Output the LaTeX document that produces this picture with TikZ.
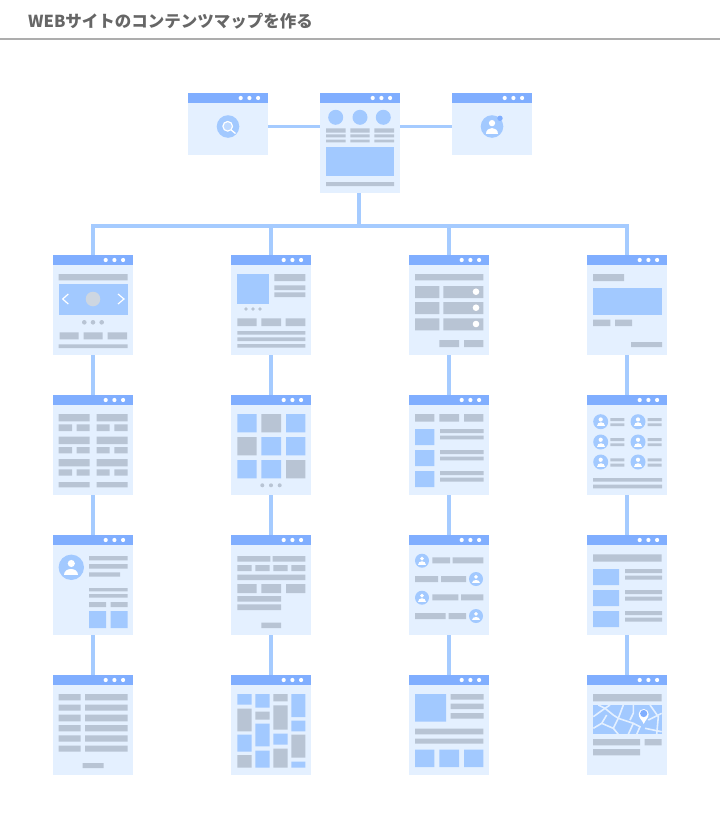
\documentclass[tikz,border=0pt]{standalone}
\usepackage{fontspec}
\newfontfamily\cjk{Noto Sans CJK JP}
\usetikzlibrary{positioning}

\definecolor{pagebg}{HTML}{E4F0FF}
\definecolor{headbg}{HTML}{80AEFF}
\definecolor{blockblue}{HTML}{A2C9FF}
\definecolor{blockgrey}{HTML}{B8C4D4}
\definecolor{linkblue}{HTML}{A5CBFF}

% one browser window: name, left, top, height
\newcommand{\browser}[4]{
	\node (#1) [page,minimum height=#4pt] at (#2,#3) {};
	\fill [headbg] (#1.north west) rectangle ++(80,10);
	\fill [white] (#1.north west) ++(52.7,5) circle (2.1) ++(8.7,0) circle (2.1) ++(8.7,0) circle (2.1);
}

% round portrait: x, y, radius
\newcommand{\avatar}[3]{
	\begin{scope}[shift={(#1,#2)},scale=#3]
	\fill [blockblue] (0,0) circle (1);
	\fill [white] (0,-0.3) circle (0.28);
	\fill [white] (-0.55,0.62) .. controls (-0.55,-0.05) and (0.55,-0.05) .. (0.55,0.62) -- cycle;
	\end{scope}
}

\begin{document}
\begin{tikzpicture}
[x=1pt,y=-1pt,
 page/.style={shape=rectangle,fill=pagebg,inner sep=0pt,outer sep=0pt,minimum width=80pt,anchor=north west},
 greybox/.style={fill=blockgrey},
 bluebox/.style={fill=blockblue},
 link/.style={draw=linkblue,line width=3.4pt},
 street/.style={draw=pagebg,line width=1.6pt}]

\useasboundingbox (0,0) rectangle (720,830);

% heading
\node (title) [anchor=west,text=black!60,inner sep=0pt] at (28,21.5) {\cjk\fontsize{16.5}{20}\selectfont\bfseries WEBサイトのコンテンツマップを作る};
\draw [black!32,line width=1.8pt] (0,39) -- (720,39);

% top row
\browser{search}{188}{93}{62}
\browser{home}{320}{93}{100}
\browser{user}{452}{93}{62}

% first row
\browser{a1}{53}{255}{100}
\browser{a2}{231}{255}{100}
\browser{a3}{409}{255}{100}
\browser{a4}{587}{255}{100}

% second row
\browser{b1}{53}{395}{100}
\browser{b2}{231}{395}{100}
\browser{b3}{409}{395}{100}
\browser{b4}{587}{395}{100}

% third row
\browser{c1}{53}{535}{100}
\browser{c2}{231}{535}{100}
\browser{c3}{409}{535}{100}
\browser{c4}{587}{535}{100}

% fourth row
\browser{d1}{53}{675}{100}
\browser{d2}{231}{675}{100}
\browser{d3}{409}{675}{100}
\browser{d4}{587}{675}{100}

% connectors
\draw [link] (search.east |- 0,126.5) -- (home.west |- 0,126.5);
\draw [link] (home.east |- 0,126.5) -- (user.west |- 0,126.5);
\coordinate (bus) at (359,226);
\draw [link] (home.south -| bus) -- (bus);
\draw [link] (a1.north) |- (bus);
\draw [link] (a2.north) |- (bus);
\draw [link] (a3.north) |- (bus);
\draw [link] (a4.north) |- (bus);
\draw [link] (a1) -- (b1);
\draw [link] (b1) -- (c1);
\draw [link] (c1) -- (d1);
\draw [link] (a2) -- (b2);
\draw [link] (b2) -- (c2);
\draw [link] (c2) -- (d2);
\draw [link] (a3) -- (b3);
\draw [link] (b3) -- (c3);
\draw [link] (c3) -- (d3);
\draw [link] (a4) -- (b4);
\draw [link] (b4) -- (c4);
\draw [link] (c4) -- (d4);

\begin{scope}[shift={(search.north west)}]
	\fill [blockblue] (40,33.5) circle (11.3);
	\draw [white,fill=blockblue!70!white,line width=1.2pt] (39.7,33.3) circle (4.8);
	\draw [white,line width=1.3pt] (43.2,37) -- (47.5,40.5);
\end{scope}

\begin{scope}[shift={(user.north west)}]
	\avatar{40}{33.5}{11.3}
	\fill [headbg] (48,25.3) circle (2.7);
\end{scope}

\begin{scope}[shift={(home.north west)}]
	\fill [blockblue] (15.7,24.3) circle (7.5) (40,24.3) circle (7.5) (63.3,24.3) circle (7.5);
	\fill [greybox] (6,35.3) rectangle (25.7,39.7) (30.3,35.3) rectangle (49.7,39.7) (54.3,35.3) rectangle (74,39.7)
		(6,41.3) rectangle (25.7,44.3) (30.3,41.3) rectangle (49.7,44.3) (54.3,41.3) rectangle (74,44.3)
		(6,46.7) rectangle (25.7,49.3) (30.3,46.7) rectangle (49.7,49.3) (54.3,46.7) rectangle (74,49.3)
		(6,89) rectangle (74,93);
	\fill [bluebox] (6,54) rectangle (74,83.3);
\end{scope}

\begin{scope}[shift={(a1.north west)}]
	\fill [greybox] (5.7,19) rectangle (74.7,25.3)
		(6.7,77.3) rectangle (25.7,84.3) (30.7,77.3) rectangle (49.7,84.3) (54.7,77.3) rectangle (74,84.3)
		(5.7,89.3) rectangle (74.7,93);
	\fill [bluebox] (5.7,29) rectangle (74.7,60);
	\fill [blockgrey!70!white] (40,44) circle (7.3);
	\draw [white,line width=1.2pt] (15.3,39) -- (9.7,44) -- (15.3,49);
	\draw [white,line width=1.2pt] (65,39) -- (71,44) -- (65,49);
	\fill [blockgrey] (31.3,67.3) circle (2.3) (40,67.3) circle (2.3) (48.7,67.3) circle (2.3);
\end{scope}

\begin{scope}[shift={(a2.north west)}]
	\fill [bluebox] (6.3,19) rectangle (37.7,49);
	\fill [greybox] (43.3,19) rectangle (74.3,26) (43.3,30.3) rectangle (74.3,35) (43.3,37.3) rectangle (74.3,42)
		(6.3,63.3) rectangle (25.7,71) (30.3,63.3) rectangle (50,71) (54.7,63.3) rectangle (74.3,71)
		(6.3,76) rectangle (74.3,79.7) (6.3,82.3) rectangle (74.3,86) (6.3,89) rectangle (74.3,92.7);
	\fill [blockgrey] (15,54) circle (1.9) (22,54) circle (1.9) (29,54) circle (1.9);
\end{scope}

\begin{scope}[shift={(a3.north west)}]
	\fill [greybox] (6,19) rectangle (74.3,25.3)
		(6,31) rectangle (30.3,43) (34.3,31) rectangle (74.3,43)
		(6,47) rectangle (30.3,59) (34.3,47) rectangle (74.3,59)
		(6,63.3) rectangle (30.3,75.3) (34.3,63.3) rectangle (74.3,75.3)
		(30.3,85) rectangle (50,92) (55,85) rectangle (74.3,92);
	\fill [white] (67,36.7) circle (3.3) (67,52.7) circle (3.3) (67,69) circle (3.3);
\end{scope}

\begin{scope}[shift={(a4.north west)}]
	\fill [greybox] (6,19) rectangle (37,26) (6,64.7) rectangle (23.3,71) (28,64.7) rectangle (45,71) (44,87) rectangle (75,92);
	\fill [bluebox] (6,33) rectangle (75,60);
\end{scope}

\begin{scope}[shift={(b1.north west)}]
	\fill [greybox] (5.7,19) rectangle (36.7,26.3) (43.7,19) rectangle (74.7,26.3)
		(5.7,29.3) rectangle (19,36) (23.7,29.3) rectangle (36.7,36) (43.7,29.3) rectangle (56.7,36) (61.3,29.3) rectangle (74.7,36)
		(5.7,41.7) rectangle (36.7,49) (43.7,41.7) rectangle (74.7,49)
		(5.7,52) rectangle (19,58.3) (23.7,52) rectangle (36.7,58.3) (43.7,52) rectangle (56.7,58.3) (61.3,52) rectangle (74.7,58.3)
		(5.7,64) rectangle (36.7,71.3) (43.7,64) rectangle (74.7,71.3)
		(5.7,74.3) rectangle (19,80.7) (23.7,74.3) rectangle (36.7,80.7) (43.7,74.3) rectangle (56.7,80.7) (61.3,74.3) rectangle (74.7,80.7)
		(5.7,87) rectangle (36.7,92.3) (43.7,87) rectangle (74.7,92.3);
\end{scope}

\begin{scope}[shift={(b2.north west)}]
	\fill [bluebox] (6.3,19) rectangle (25.7,37.3) (55,19) rectangle (74.3,37.3)
		(30.3,42) rectangle (50,60.3) (55,42) rectangle (74.3,60.3)
		(6.3,65) rectangle (25.7,83.3) (30.3,65) rectangle (50,83.3);
	\fill [greybox] (30.3,19) rectangle (50,37.3) (6.3,42) rectangle (25.7,60.3) (55,65) rectangle (74.3,83.3);
	\fill [blockgrey] (31.3,90.3) circle (2) (40,90.3) circle (2) (48.7,90.3) circle (2);
\end{scope}

\begin{scope}[shift={(b3.north west)}]
	\fill [greybox] (6,19) rectangle (25.3,26.7) (30.3,19) rectangle (50,26.7) (55,19) rectangle (74.3,26.7)
		(31,34) rectangle (74.7,38) (31,40.7) rectangle (74.7,44.3)
		(31,55) rectangle (74.7,59) (31,61.7) rectangle (74.7,65.3)
		(31,76) rectangle (74.7,80) (31,82.7) rectangle (74.7,86.7);
	\fill [bluebox] (6,34) rectangle (25.3,50) (6,55) rectangle (25.3,71) (6,76) rectangle (25.3,92);
\end{scope}

\begin{scope}[shift={(b4.north west)}]
	\avatar{13.7}{26.7}{7.5}
	\avatar{51}{26.7}{7.5}
	\avatar{13.7}{47}{7.5}
	\avatar{51}{47}{7.5}
	\avatar{13.7}{67}{7.5}
	\avatar{51}{67}{7.5}
	\fill [greybox] (23.3,23) rectangle (37.3,26) (60.7,23) rectangle (74.7,26)
		(23.3,28.3) rectangle (37.3,31) (60.7,28.3) rectangle (74.7,31)
		(23.3,43) rectangle (37.3,46) (60.7,43) rectangle (74.7,46)
		(23.3,48.3) rectangle (37.3,51) (60.7,48.3) rectangle (74.7,51)
		(23.3,63.3) rectangle (37.3,66.3) (60.7,63.3) rectangle (74.7,66.3)
		(23.3,68.7) rectangle (37.3,71.7) (60.7,68.7) rectangle (74.7,71.7)
		(6,83) rectangle (75,86.7) (6,89.7) rectangle (75,93.3);
\end{scope}

\begin{scope}[shift={(c1.north west)}]
	\avatar{18.3}{32.3}{12.7}
	\fill [greybox] (36,21) rectangle (74.7,25.3) (36,29) rectangle (74.7,33.7) (36,37.3) rectangle (67,41.7)
		(36,53) rectangle (74.7,56.3) (36,59) rectangle (74.7,62.7)
		(36,67) rectangle (53,72) (57.7,67) rectangle (74.7,72);
	\fill [bluebox] (36,76) rectangle (53,93) (57.7,76) rectangle (74.7,93);
\end{scope}

\begin{scope}[shift={(c2.north west)}]
	\fill [greybox] (6.3,21) rectangle (39.3,26.7) (41.7,21) rectangle (74.3,26.7)
		(6.3,30) rectangle (20.7,36) (24.3,30) rectangle (38.7,36) (42.3,30) rectangle (56.7,36) (60.3,30) rectangle (74.3,36)
		(6.3,39.7) rectangle (74.3,45)
		(6.3,49) rectangle (25.7,58) (30.3,49) rectangle (50,58) (55,49) rectangle (74.3,58)
		(6.3,61) rectangle (50,66.7) (6.3,69.3) rectangle (50,75)
		(30.3,87.7) rectangle (50,93);
\end{scope}

\begin{scope}[shift={(c3.north west)}]
	\avatar{13}{25.7}{7}
	\avatar{67}{44}{7}
	\avatar{13}{62.7}{7}
	\avatar{67}{81}{7}
	\fill [greybox] (23.3,22.3) rectangle (41,28.3) (43.7,22.3) rectangle (74.3,28.3)
		(6,41) rectangle (29,47) (32,41) rectangle (57,47)
		(23.3,59.3) rectangle (49.3,65.3) (52,59.3) rectangle (74.3,65.3)
		(6,78) rectangle (36.7,84) (39.7,78) rectangle (57,84);
\end{scope}

\begin{scope}[shift={(c4.north west)}]
	\fill [greybox] (6,19.3) rectangle (74.7,26.7)
		(38,34) rectangle (75,38) (38,40.7) rectangle (75,44.7)
		(38,55) rectangle (75,59) (38,61.7) rectangle (75,65.7)
		(38,76) rectangle (75,80) (38,82.7) rectangle (75,86.7);
	\fill [bluebox] (6,34) rectangle (32,50) (6,55) rectangle (32,71) (6,76) rectangle (32,92);
\end{scope}

\begin{scope}[shift={(d1.north west)}]
	\fill [greybox] (5.7,19) rectangle (27.7,25.3) (32,19) rectangle (74.7,25.3)
		(5.7,29.7) rectangle (27.7,35.7) (32,29.7) rectangle (74.7,35.7)
		(5.7,39.7) rectangle (27.7,46.3) (32,39.7) rectangle (74.7,46.3)
		(5.7,50) rectangle (27.7,56.3) (32,50) rectangle (74.7,56.3)
		(5.7,60.3) rectangle (27.7,66.7) (32,60.3) rectangle (74.7,66.7)
		(5.7,70.7) rectangle (27.7,76.7) (32,70.7) rectangle (74.7,76.7)
		(29.7,88) rectangle (50.7,93);
\end{scope}

\begin{scope}[shift={(d2.north west)}]
	\fill [bluebox] (6.3,19) rectangle (20.7,29.7) (6.3,59.7) rectangle (20.7,76.7)
		(24.3,19) rectangle (38.7,32.7) (24.3,48.7) rectangle (38.7,71.3) (24.3,75.7) rectangle (38.7,92.7)
		(42.3,58.7) rectangle (56.7,69.7)
		(60.3,19) rectangle (74.3,42) (60.3,45.7) rectangle (74.3,56.3) (60.3,86.7) rectangle (74.3,92.7);
	\fill [greybox] (6.3,33.7) rectangle (20.7,56.3) (6.3,80) rectangle (20.7,92.7)
		(24.3,36.7) rectangle (38.7,44.7)
		(42.3,19) rectangle (56.7,26.3) (42.3,30.3) rectangle (56.7,54.7) (42.3,73.7) rectangle (56.7,92.7)
		(60.3,59.7) rectangle (74.3,82.7);
\end{scope}

\begin{scope}[shift={(d3.north west)}]
	\fill [bluebox] (6,19) rectangle (37,46.7)
		(6,74.7) rectangle (25.3,92) (30.3,74.7) rectangle (50,92) (55,74.7) rectangle (74.3,92);
	\fill [greybox] (41.7,19) rectangle (74.7,24.7) (41.7,28.7) rectangle (74.7,34) (41.7,38) rectangle (74.7,43.7)
		(6,53.7) rectangle (74.3,59.3) (6,63.7) rectangle (74.3,68.7);
\end{scope}

\begin{scope}[shift={(d4.north west)}]
	\fill [greybox] (6,19) rectangle (74.7,26.3)
		(6,64) rectangle (53,70.3) (57.7,64) rectangle (74.7,70.3) (6,74) rectangle (53,80.3);
	\fill [bluebox] (6,30) rectangle (75,59);
	\begin{scope}
		\clip (6,30) rectangle (75,59);
		\draw [street] (6.3,41.7) -- (18,33.3) -- (23,30);
		\draw [street] (11.3,30) -- (18,33.3) -- (26.3,40) -- (31.3,43.3);
		\draw [street] (6.3,53.3) -- (14.7,48.3) -- (19.7,40);
		\draw [street] (14.7,48.3) -- (26.3,53.3) -- (31.3,59.3);
		\draw [street] (26.3,53.3) -- (31.3,43.3) -- (46.3,48.3) -- (41.3,59.3);
		\draw [street] (46.3,48.3) -- (53,51.7) -- (49.7,59.3);
		\draw [street] (36.3,30) -- (31.3,43.3);
		\draw [street] (46.3,30) -- (46.3,38.3) -- (43,45);
		\draw [street] (63,30) -- (71.3,41.7) -- (69.7,59.3);
		\draw [street] (58,53.3) -- (74.7,56.7);
		\draw [street] (61.3,45) -- (74.7,38.3);
	\end{scope}
	\fill [white] (51.7,39) .. controls (51.7,43) and (55.2,45) .. (56.7,49) .. controls (58.2,45) and (61.7,43) .. (61.7,39) arc (0:-180:5) -- cycle;
	\fill [headbg] (56.7,38.5) circle (3.6);
\end{scope}

\end{tikzpicture}
\end{document}
